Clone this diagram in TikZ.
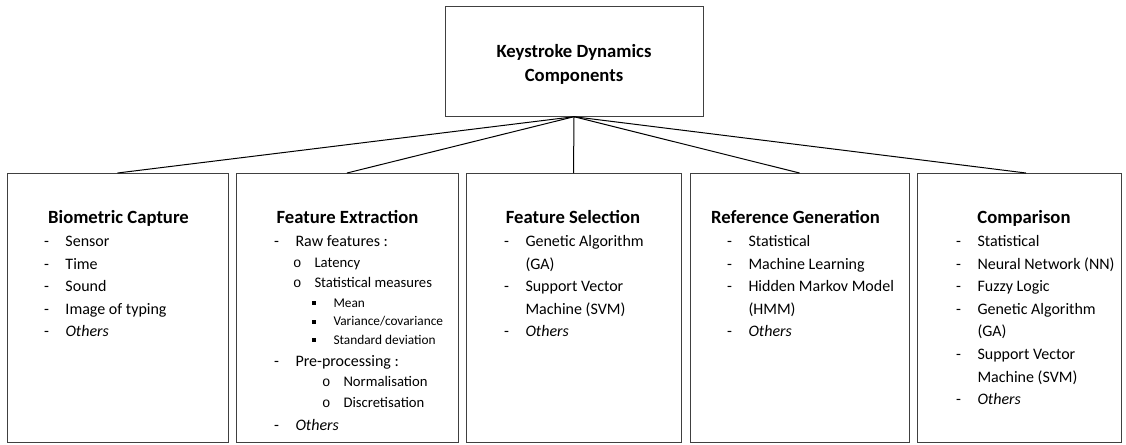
\documentclass[tikz,border=0pt]{standalone}
\usepackage{fontspec}
\setmainfont{Carlito}
\newfontfamily\monofnt{Liberation Mono}
\newcommand{\mk}[1]{\llap{\makebox[16pt][l]{#1}}}
\newcommand{\dsh}{\mk{-}}
\newcommand{\crc}{\mk{{\monofnt\fontsize{10.5}{10.5}\selectfont o}}}
\newcommand{\sqr}{\mk{\rule[1.6pt]{3pt}{3pt}}}
\tikzset{every picture/.style={line width=0.75pt}}

\begin{document}
\begin{tikzpicture}[x=0.75pt,y=0.75pt,yscale=-1,xscale=1,
  box/.style={draw=black!75, rectangle, inner sep=0pt, outer sep=0pt},
  ttl/.style={anchor=base, inner sep=0pt, font=\fontsize{14}{17}\selectfont\bfseries},
  itm/.style={anchor=base west, inner sep=0pt, font=\fontsize{12}{14}\selectfont},
  sub/.style={anchor=base west, inner sep=0pt, font=\fontsize{11}{13}\selectfont},
  subsub/.style={anchor=base west, inner sep=0pt, font=\fontsize{10}{12}\selectfont}]
\useasboundingbox (0,0) rectangle (1126,444);

% Top box
\node (kdc) [box, minimum width=258*0.75pt, minimum height=110*0.75pt] at (574,61.7) {};
\node (kdc-1) [ttl] at (574,57.5) {Keystroke Dynamics};
\node (kdc-2) [ttl] at (574,81.5) {Components};

% Component boxes
\node (bc) [box, minimum width=221*0.75pt, minimum height=269.5*0.75pt] at (117.5,307.75) {};
\node (fe) [box, minimum width=222*0.75pt, minimum height=269.5*0.75pt] at (347,307.75) {};
\node (fs) [box, minimum width=215*0.75pt, minimum height=269.5*0.75pt] at (573.5,307.75) {};
\node (rg) [box, minimum width=219*0.75pt, minimum height=269.5*0.75pt] at (799.5,307.75) {};
\node (cmp) [box, minimum width=204*0.75pt, minimum height=269.5*0.75pt] at (1019,307.75) {};

% Connections
\draw (kdc.south) -- (bc.north);
\draw (kdc.south) -- (fe.north);
\draw (kdc.south) -- (fs.north);
\draw (kdc.south) -- (rg.north);
\draw (kdc.south) -- ([xshift=5.25pt]cmp.north);

% Biometric Capture
\node (bc-t) [ttl] at (118.5,223) {Biometric Capture};
\node (bc-1) [itm] at (65,246.5) {\dsh Sensor};
\node (bc-2) [itm] at (65,269.1) {\dsh Time};
\node (bc-3) [itm] at (65,291.7) {\dsh Sound};
\node (bc-4) [itm] at (65,314.3) {\dsh Image of typing};
\node (bc-5) [itm] at (65,336.9) {\dsh\textit{Others}};

% Feature Extraction
\node (fe-t) [ttl] at (347.5,223) {Feature Extraction};
\node (fe-1) [itm] at (295,246.7) {\dsh Raw features :};
\node (fe-2) [sub] at (314,267.5) {\crc Latency};
\node (fe-3) [sub] at (314,287.5) {\crc Statistical measures};
\node (fe-4) [subsub] at (333,307) {\sqr Mean};
\node (fe-5) [subsub] at (333,325.7) {\sqr Variance/covariance};
\node (fe-6) [subsub] at (333,344) {\sqr Standard deviation};
\node (fe-7) [itm] at (295,366.7) {\dsh Pre-processing :};
\node (fe-8) [sub] at (343,386.5) {\crc Normalisation};
\node (fe-9) [sub] at (343,407.5) {\crc Discretisation};
\node (fe-10) [itm] at (295,430) {\dsh\textit{Others}};

% Feature Selection
\node (fs-t) [ttl] at (573,223) {Feature Selection};
\node (fs-1) [itm] at (525,246.5) {\dsh Genetic Algorithm};
\node (fs-2) [itm] at (525,269.1) {(GA)};
\node (fs-3) [itm] at (525,291.7) {\dsh Support Vector};
\node (fs-4) [itm] at (525,314.3) {Machine (SVM)};
\node (fs-5) [itm] at (525,336.9) {\dsh\textit{Others}};

% Reference Generation
\node (rg-t) [ttl] at (795.5,223) {Reference Generation};
\node (rg-1) [itm] at (748,246.5) {\dsh Statistical};
\node (rg-2) [itm] at (748,269.1) {\dsh Machine Learning};
\node (rg-3) [itm] at (748,291.7) {\dsh Hidden Markov Model};
\node (rg-4) [itm] at (748,314.3) {(HMM)};
\node (rg-5) [itm] at (748,336.9) {\dsh\textit{Others}};

% Comparison
\node (cmp-t) [ttl] at (1024,223) {Comparison};
\node (cmp-1) [itm] at (977,246.5) {\dsh Statistical};
\node (cmp-2) [itm] at (977,269.1) {\dsh Neural Network (NN)};
\node (cmp-3) [itm] at (977,291.7) {\dsh Fuzzy Logic};
\node (cmp-4) [itm] at (977,314.3) {\dsh Genetic Algorithm};
\node (cmp-5) [itm] at (977,336.9) {(GA)};
\node (cmp-6) [itm] at (977,359.5) {\dsh Support Vector};
\node (cmp-7) [itm] at (977,382.1) {Machine (SVM)};
\node (cmp-8) [itm] at (977,404.7) {\dsh\textit{Others}};

\end{tikzpicture}
\end{document}
